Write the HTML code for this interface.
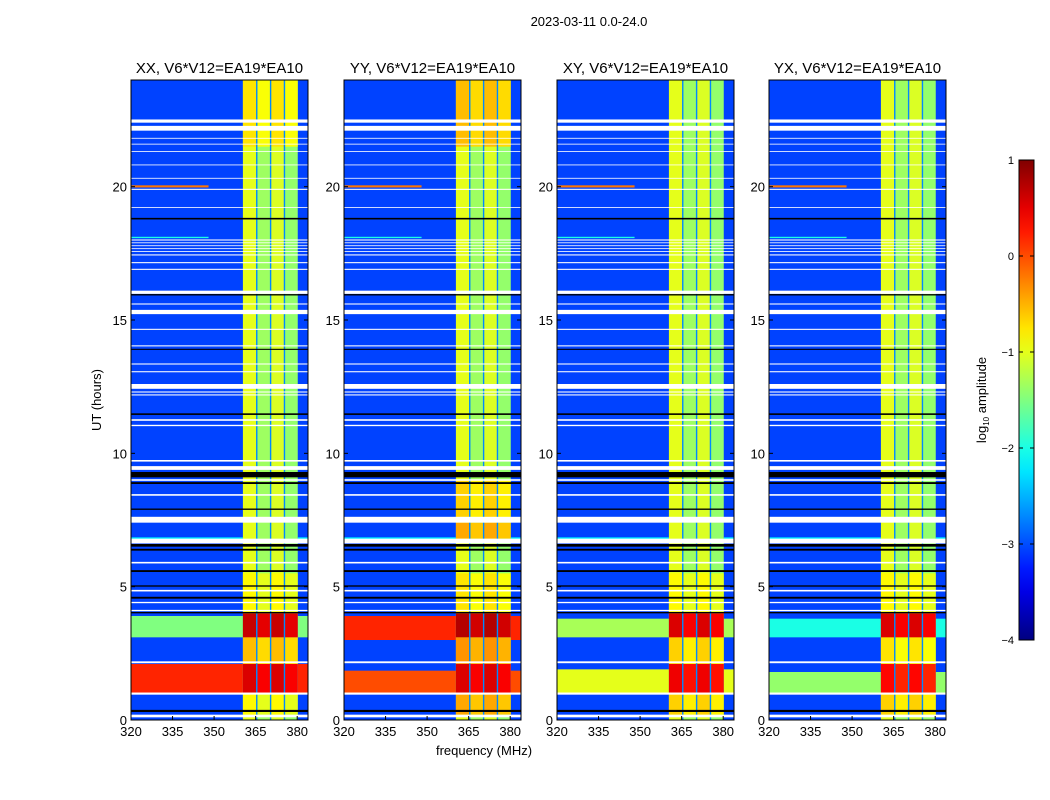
<!DOCTYPE html>
<html><head><meta charset="utf-8">
<style>
body{margin:0;background:#fff;}
svg{display:block;font-family:"Liberation Sans",sans-serif;}
</style></head>
<body>
<svg id="fig" width="1050" height="800" viewBox="0 0 1050 800">
<text x="589" y="26" font-size="13" text-anchor="middle">2023-03-11 0.0-24.0</text>
<text x="101" y="400" font-size="13" text-anchor="middle" transform="rotate(-90 101 400)">UT (hours)</text>
<text x="484" y="755" font-size="13" text-anchor="middle">frequency (MHz)</text>
<text x="986" y="400" font-size="13" text-anchor="middle" transform="rotate(-90 986 400)">log<tspan font-size="8" dy="3">10</tspan><tspan dy="-3"> amplitude</tspan></text>
<g id="plots"></g>
</svg>
<script>
const panelNames = ['XX','YY','XY','YX'];
const freqTicks = [320,335,350,365,380];
const timeTicks = [0,5,10,15,20];
const cbTicks = [1,0,-1,-2,-3,-4];
const bandEdges = [360.4,365.4,370.4,375.4,380.2];
const subbandLevel = [-1.0,-1.35,-1.05,-1.4];
const bgLevel = -3.05;
const whiteFlags = [[0.1,0.2],[0.95,1.03],[2.13,2.2],[4.08,4.13],[4.38,4.43],[4.82,4.88],[5.87,5.93],[6.62,6.8],[7.4,7.62],[8.41,8.47],[8.97,9.03],[9.38,9.52],[9.69,9.75],[11.02,11.07],[11.22,11.28],[12.17,12.21],[12.28,12.32],[12.42,12.6],[13.04,13.08],[13.33,13.37],[14.01,14.05],[14.63,14.67],[15.22,15.38],[15.58,15.62],[15.98,16.1],[16.88,16.92],[17.13,17.17],[17.42,17.46],[17.55,17.58],[17.66,17.69],[17.77,17.8],[17.88,17.91],[17.98,18.02],[19.2,19.23],[19.88,19.92],[20.3,20.33],[20.8,20.83],[21.3,21.33],[21.58,21.61],[21.8,21.83],[22.1,22.28],[22.4,22.52]];
const blackFlags = [[0.3,0.38],[4.0,4.05],[4.55,4.62],[5.0,5.05],[5.55,5.62],[6.35,6.42],[6.5,6.6],[7.88,7.93],[8.85,8.92],[9.1,9.3],[11.44,11.5],[13.88,13.92],[15.92,15.97],[18.77,18.83]];
const bandXX = [[0.2,1.0,-0.9],[1.0,2.1,0.5],[2.1,3.1,-0.6],[3.1,4.0,0.6],[4.0,5.5,-0.9],[21.5,24,-0.8]];
const bandYY = [[0.2,1.0,-0.5],[1.0,2.1,0.5],[2.1,3.1,-0.4],[3.1,4.0,0.7],[4.0,5.5,-0.8],[6.8,7.4,-0.5],[7.6,9.0,-0.7],[21.5,24,-0.6]];
const bandXY = [[0.2,1.0,-0.7],[1.0,2.1,0.4],[2.1,3.1,-0.7],[3.1,4.0,0.5],[4.0,5.5,-0.9]];
const bandYX = [[0.2,1.0,-0.7],[1.0,2.1,0.3],[2.1,3.1,-0.8],[3.1,4.0,0.5],[4.0,5.5,-0.9]];
const offXX = [[1.0,2.1,0.2],[3.1,3.9,-1.5],[6.75,6.85,-2.2]];
const offYY = [[1.0,1.85,0.0],[3.0,3.9,0.2],[6.75,6.85,-2.2]];
const offXY = [[1.0,1.9,-1.0],[3.1,3.8,-1.3],[6.75,6.85,-2.2]];
const offYX = [[1.0,1.8,-1.4],[3.1,3.8,-2.0],[6.75,6.85,-2.2]];
const rfiLines = [[19.97,20.05,320,348,-0.2],[18.07,18.12,320,348,-2.0]];
const bandByPanel = [bandXX,bandYY,bandXY,bandYX];
const offByPanel = [offXX,offYY,offXY,offYX];

const NS='http://www.w3.org/2000/svg';
const plots=document.getElementById('plots');
function jet(v){const x=Math.max(0,Math.min(1,(v+4)/5));const c=t=>Math.round(255*Math.max(0,Math.min(1,1.5-Math.abs(4*x-t))));return `rgb(${c(3)},${c(2)},${c(1)})`;}
function mk(tag,attrs,parent){const e=document.createElementNS(NS,tag);for(const k in attrs)e.setAttribute(k,attrs[k]);parent.appendChild(e);return e;}
const axTop=80,axBot=720,pw=177,fmin=320,fmax=383.9;
const lefts=[131,344,557,769];
lefts.forEach((L,p)=>{
  const g=mk('g',{},plots);
  
  
  const X=f=>L+(f-fmin)/(fmax-fmin)*pw;
  const Y=t=>axBot-t/24*(axBot-axTop);
  const rect=(f0,f1,t0,t1,fill,name)=>{const r=mk('rect',{x:X(f0),y:Y(t1),width:X(f1)-X(f0),height:Math.max(0.8,Y(t0)-Y(t1)),fill:fill},g);return r;};
  rect(fmin,fmax,0,24,jet(bgLevel),'background-cells');
  offByPanel[p].forEach(s=>{rect(fmin,bandEdges[0],s[0],s[1],jet(s[2]),'offband-rfi');rect(bandEdges[4],fmax,s[0],s[1],jet(s[2]),'offband-rfi');});
  for(let i=0;i<4;i++){rect(bandEdges[i],bandEdges[i+1],0,24,jet(subbandLevel[i]),'subband-'+(i+1));}
  bandByPanel[p].forEach(s=>{for(let i=0;i<4;i++){rect(bandEdges[i],bandEdges[i+1],s[0],s[1],jet(s[2]+(i%2?-0.1:0.05)),'band-segment');}});
  for(let i=1;i<4;i++){const r=mk('rect',{x:X(bandEdges[i])-0.7,y:axTop,width:1.4,height:axBot-axTop,fill:jet(-2.7)},g);}
  rfiLines.forEach(s=>rect(s[2],s[3],s[0],s[1],jet(s[4]),'rfi-line'));
  whiteFlags.forEach(s=>rect(fmin,fmax,s[0],s[1],'#fff','flagged-row'));
  blackFlags.forEach(s=>rect(fmin,fmax,s[0],s[1],'#000','flagged-row-black'));
  const fr=mk('rect',{x:L,y:axTop,width:pw,height:axBot-axTop,fill:'none',stroke:'#000','stroke-width':1},g);
  
  
  const tt=mk('text',{x:L+pw/2,y:73,'font-size':15,'text-anchor':'middle'},g);
  tt.textContent=panelNames[p]+', V6*V12=EA19*EA10';
  
  
  freqTicks.forEach(f=>{
    mk('line',{x1:X(f),x2:X(f),y1:axBot,y2:axBot-4,stroke:'#000'},g);
    const t=mk('text',{x:X(f),y:axBot+16,'font-size':13,'text-anchor':'middle'},g);
    t.textContent=f;
    
    
  });
  timeTicks.forEach(v=>{
    mk('line',{x1:L,x2:L+4,y1:Y(v),y2:Y(v),stroke:'#000'},g);
    mk('line',{x1:L+pw,x2:L+pw-4,y1:Y(v),y2:Y(v),stroke:'#000'},g);
    const t=mk('text',{x:L-4,y:Y(v)+5,'font-size':13,'text-anchor':'end'},g);
    t.textContent=v;
    
    
  });
});
const cb=mk('g',{},plots);


const defs=mk('defs',{},cb);
const grad=mk('linearGradient',{id:'jetg',x1:0,y1:1,x2:0,y2:0},defs);
for(let i=0;i<=20;i++){mk('stop',{offset:i/20,'stop-color':jet(-4+5*i/20)},grad);}
const cbY=v=>640-(v+4)/5*480;
mk('rect',{x:1019,y:160,width:15,height:480,fill:'url(#jetg)',stroke:'#000','stroke-width':1},cb);
cbTicks.forEach(v=>{
  mk('line',{x1:1019,x2:1023,y1:cbY(v),y2:cbY(v),stroke:'#000'},cb);
  mk('line',{x1:1030,x2:1034,y1:cbY(v),y2:cbY(v),stroke:'#000'},cb);
  const t=mk('text',{x:1014,y:cbY(v)+4,'font-size':11,'text-anchor':'end'},cb);
  t.textContent=v<0?'\u2212'+(-v):String(v);
  
  
});
</script>
</body></html>
